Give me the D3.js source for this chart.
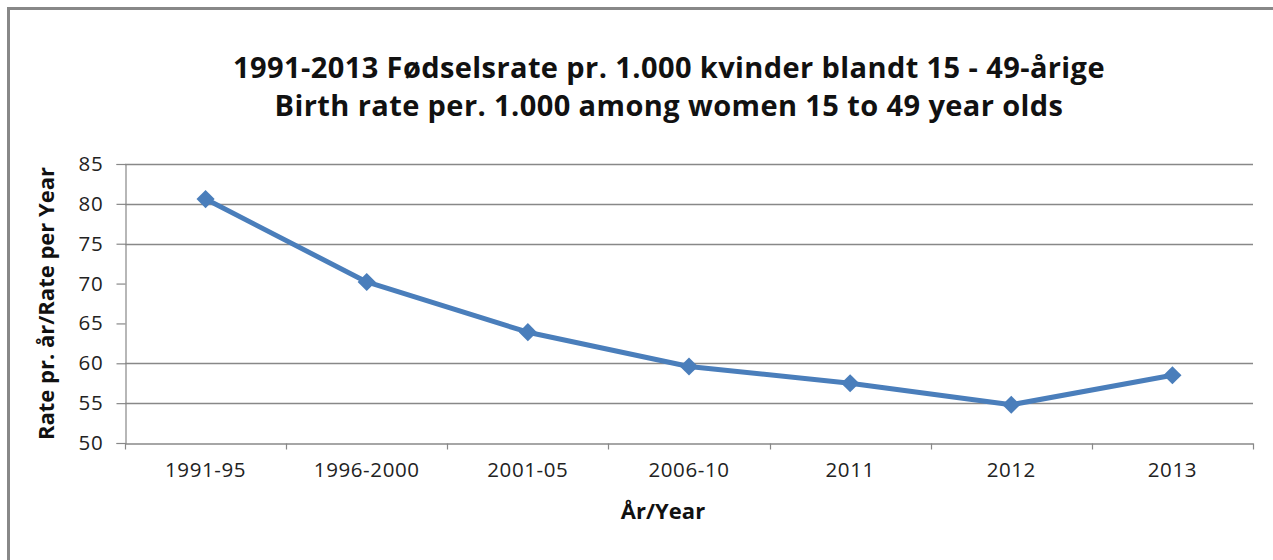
<!DOCTYPE html>
<html lang="no">
  <head>
    <meta charset="UTF-8" />
    <script src="https://d3js.org/d3.v7.min.js"></script>
    <title>Fødselsrate</title>
    <style>
      body { margin: 0; background: #fff; }
      svg text { font-family: "Open Sans", sans-serif; }
    </style>
  </head>
  <body>
    <div id="chart"></div>
    <script>
      // categories and values
      var periods = ["1991-95", "1996-2000", "2001-05", "2006-10", "2011", "2012", "2013"];
      var rates = [80.6, 70.2, 63.9, 59.6, 57.5, 54.8, 58.5];
      var yTicks = [50, 55, 60, 65, 70, 75, 80, 85];
      var gridValues = [55, 60, 75, 80, 85];

      var width = 1273,
        height = 560,
        margin = { top: 164, right: 20, bottom: 117, left: 125 };

      var svg = d3.select("#chart").append("svg")
        .attr("width", width)
        .attr("height", height);

      // outer frame (only top and left edges show)
      svg.append("path")
        .attr("d", "M8.5," + height + "V8.5H" + width)
        .attr("fill", "none")
        .attr("stroke", "#888")
        .attr("stroke-width", 3);

      var x = d3.scaleBand()
        .domain(periods)
        .range([margin.left, width - margin.right]);

      var y = d3.scaleLinear()
        .domain([50, 85])
        .range([height - margin.bottom, margin.top]);

      // gridlines
      svg.append("g")
        .selectAll("line")
        .data(gridValues)
        .enter()
        .append("line")
        .attr("x1", margin.left)
        .attr("x2", width - margin.right)
        .attr("y1", function (d) { return Math.round(y(d)) + 0.5; })
        .attr("y2", function (d) { return Math.round(y(d)) + 0.5; })
        .attr("stroke", "#888")
        .attr("stroke-width", 1.5);

      // y axis
      var yAxis = svg.append("g")
        .attr("transform", "translate(" + (margin.left + 0.5) + ",0)")
        .call(d3.axisLeft(y).tickValues(yTicks).tickSize(9).tickPadding(13));
      yAxis.selectAll("path, line").attr("stroke", "#888").attr("stroke-width", 1.2);
      yAxis.selectAll("text")
        .attr("font-size", 20.5)
        .attr("letter-spacing", 0.8)
        .attr("fill", "#222")
        .style("font-family", "Open Sans, sans-serif");

      // x axis
      var xAxis = svg.append("g")
        .attr("transform", "translate(0," + (Math.round(y(50)) + 0.5) + ")")
        .call(d3.axisBottom(x).tickSize(0).tickPadding(19).tickSizeOuter(0));
      xAxis.select(".domain").attr("stroke", "#888").attr("stroke-width", 1.5);
      xAxis.selectAll("text")
        .attr("font-size", 20.5)
        .attr("letter-spacing", 0.6)
        .attr("fill", "#222")
        .style("font-family", "Open Sans, sans-serif");
      // ticks between categories
      var bounds = periods.map(function (p) { return x(p); }).concat([x.range()[1]]);
      xAxis.selectAll("line.sep")
        .data(bounds)
        .enter()
        .append("line")
        .attr("class", "sep")
        .attr("x1", function (d) { return Math.round(d) + 0.5; })
        .attr("x2", function (d) { return Math.round(d) + 0.5; })
        .attr("y1", 0)
        .attr("y2", 6)
        .attr("stroke", "#888")
        .attr("stroke-width", 1.2);

      // series line
      var cx = function (d, i) { return x(periods[i]) + x.bandwidth() / 2; };
      var line = d3.line()
        .x(function (d, i) { return cx(d, i); })
        .y(function (d) { return y(d); });

      svg.append("path")
        .datum(rates)
        .attr("d", line)
        .attr("fill", "none")
        .attr("stroke", "#4a7ebb")
        .attr("stroke-width", 5)
        .attr("stroke-linejoin", "round");

      svg.append("g")
        .selectAll("path")
        .data(rates)
        .enter()
        .append("path")
        .attr("d", d3.symbol().type(d3.symbolDiamond2).size(210))
        .attr("transform", function (d, i) {
          return "translate(" + cx(d, i) + "," + y(d) + ")";
        })
        .attr("fill", "#4a7ebb");

      // titles (two separate lines)
      var titleLines = [
        "1991-2013 Fødselsrate pr. 1.000 kvinder blandt 15 - 49-årige",
        "Birth rate per. 1.000 among women 15 to 49 year olds"
      ];
      svg.append("g")
        .selectAll("text")
        .data(titleLines)
        .enter()
        .append("text")
        .attr("x", 669)
        .attr("y", function (d, i) { return 78 + i * 38; })
        .attr("text-anchor", "middle")
        .attr("font-weight", "bold")
        .attr("font-size", 29)
        .attr("letter-spacing", 0.4)
        .attr("fill", "#111")
        .text(function (d) { return d; });

      svg.append("text")
        .attr("transform", "translate(54," + (y(67.5)) + ") rotate(-90)")
        .attr("text-anchor", "middle")
        .attr("font-weight", "bold")
        .attr("font-size", 22)
        .attr("fill", "#111")
        .text("Rate pr. år/Rate per Year");

      svg.append("text")
        .attr("x", 663)
        .attr("y", 519)
        .attr("text-anchor", "middle")
        .attr("font-weight", "bold")
        .attr("font-size", 22)
        .attr("fill", "#111")
        .text("År/Year");
    </script>
  </body>
</html>
